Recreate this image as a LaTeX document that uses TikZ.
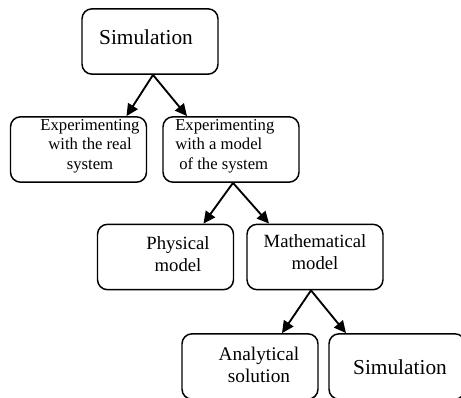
\documentclass[tikz,border=0pt]{standalone}
\usepackage{fontspec}
\setmainfont{Liberation Serif}
\usetikzlibrary{arrows.meta}
\begin{document}
\begin{tikzpicture}[x=0.75pt,y=-0.75pt,
  box/.style={draw,line width=1.1pt,rounded corners=7.5pt,minimum width=102pt,minimum height=49pt,inner sep=0pt},
  lbl/.style={inner sep=0pt,align=center},
  arr/.style={line width=1.4pt,-{Triangle[length=9pt,width=8.5pt]}}]
\clip (0,0) rectangle (461,398);
\fill[white] (0,0) rectangle (461,398);
% boxes
\node[box] (sim)  at (150,41.5) {};
\node[box] (real) at (78.5,149.5) {};
\node[box] (mod)  at (231,149.5) {};
\node[box] (phys) at (165.5,257) {};
\node[box] (math) at (315,257) {};
\node[box] (ana)  at (250,366.5) {};
\node[box] (sim2) at (397,366.5) {};
% labels
\node[lbl,font=\fontsize{16}{19}\selectfont] (t1) at (146,37) {Simulation};
\node[lbl,font=\fontsize{12.5}{14.5}\selectfont] (t2) at (90,146) {Experimenting\\with the real\\system};
\node[lbl,align=left,anchor=west,font=\fontsize{12.5}{14.5}\selectfont] (t3) at (175,146) {Experimenting\\with a model\\\hspace{3pt}of the system};
\node[lbl,font=\fontsize{14}{16.5}\selectfont] (t4) at (178,254) {Physical\\model};
\node[lbl,font=\fontsize{14}{16}\selectfont] (t5) at (315,252) {Mathematical\\model};
\node[lbl,font=\fontsize{14.5}{16}\selectfont] (t6) at (259,365) {Analytical\\solution};
\node[lbl,font=\fontsize{16}{19}\selectfont] (t7) at (400,367) {Simulation};
% connectors
\coordinate (s1) at ([xshift=2.25pt]sim.south);
\coordinate (s2) at ([xshift=1.5pt]mod.south);
\coordinate (s3) at ([xshift=-3pt]math.south);
\draw[arr] (s1) -- ([xshift=36pt]real.north);
\draw[arr] (s1) -- ([xshift=-33pt]mod.north);
\draw[arr] (s2) -- ([xshift=28.5pt]phys.north);
\draw[arr] (s2) -- ([xshift=-34.5pt]math.north);
\draw[arr] (s3) -- ([xshift=24pt]ana.north);
\draw[arr] (s3) -- ([xshift=-38.25pt]sim2.north);
\end{tikzpicture}
\end{document}
